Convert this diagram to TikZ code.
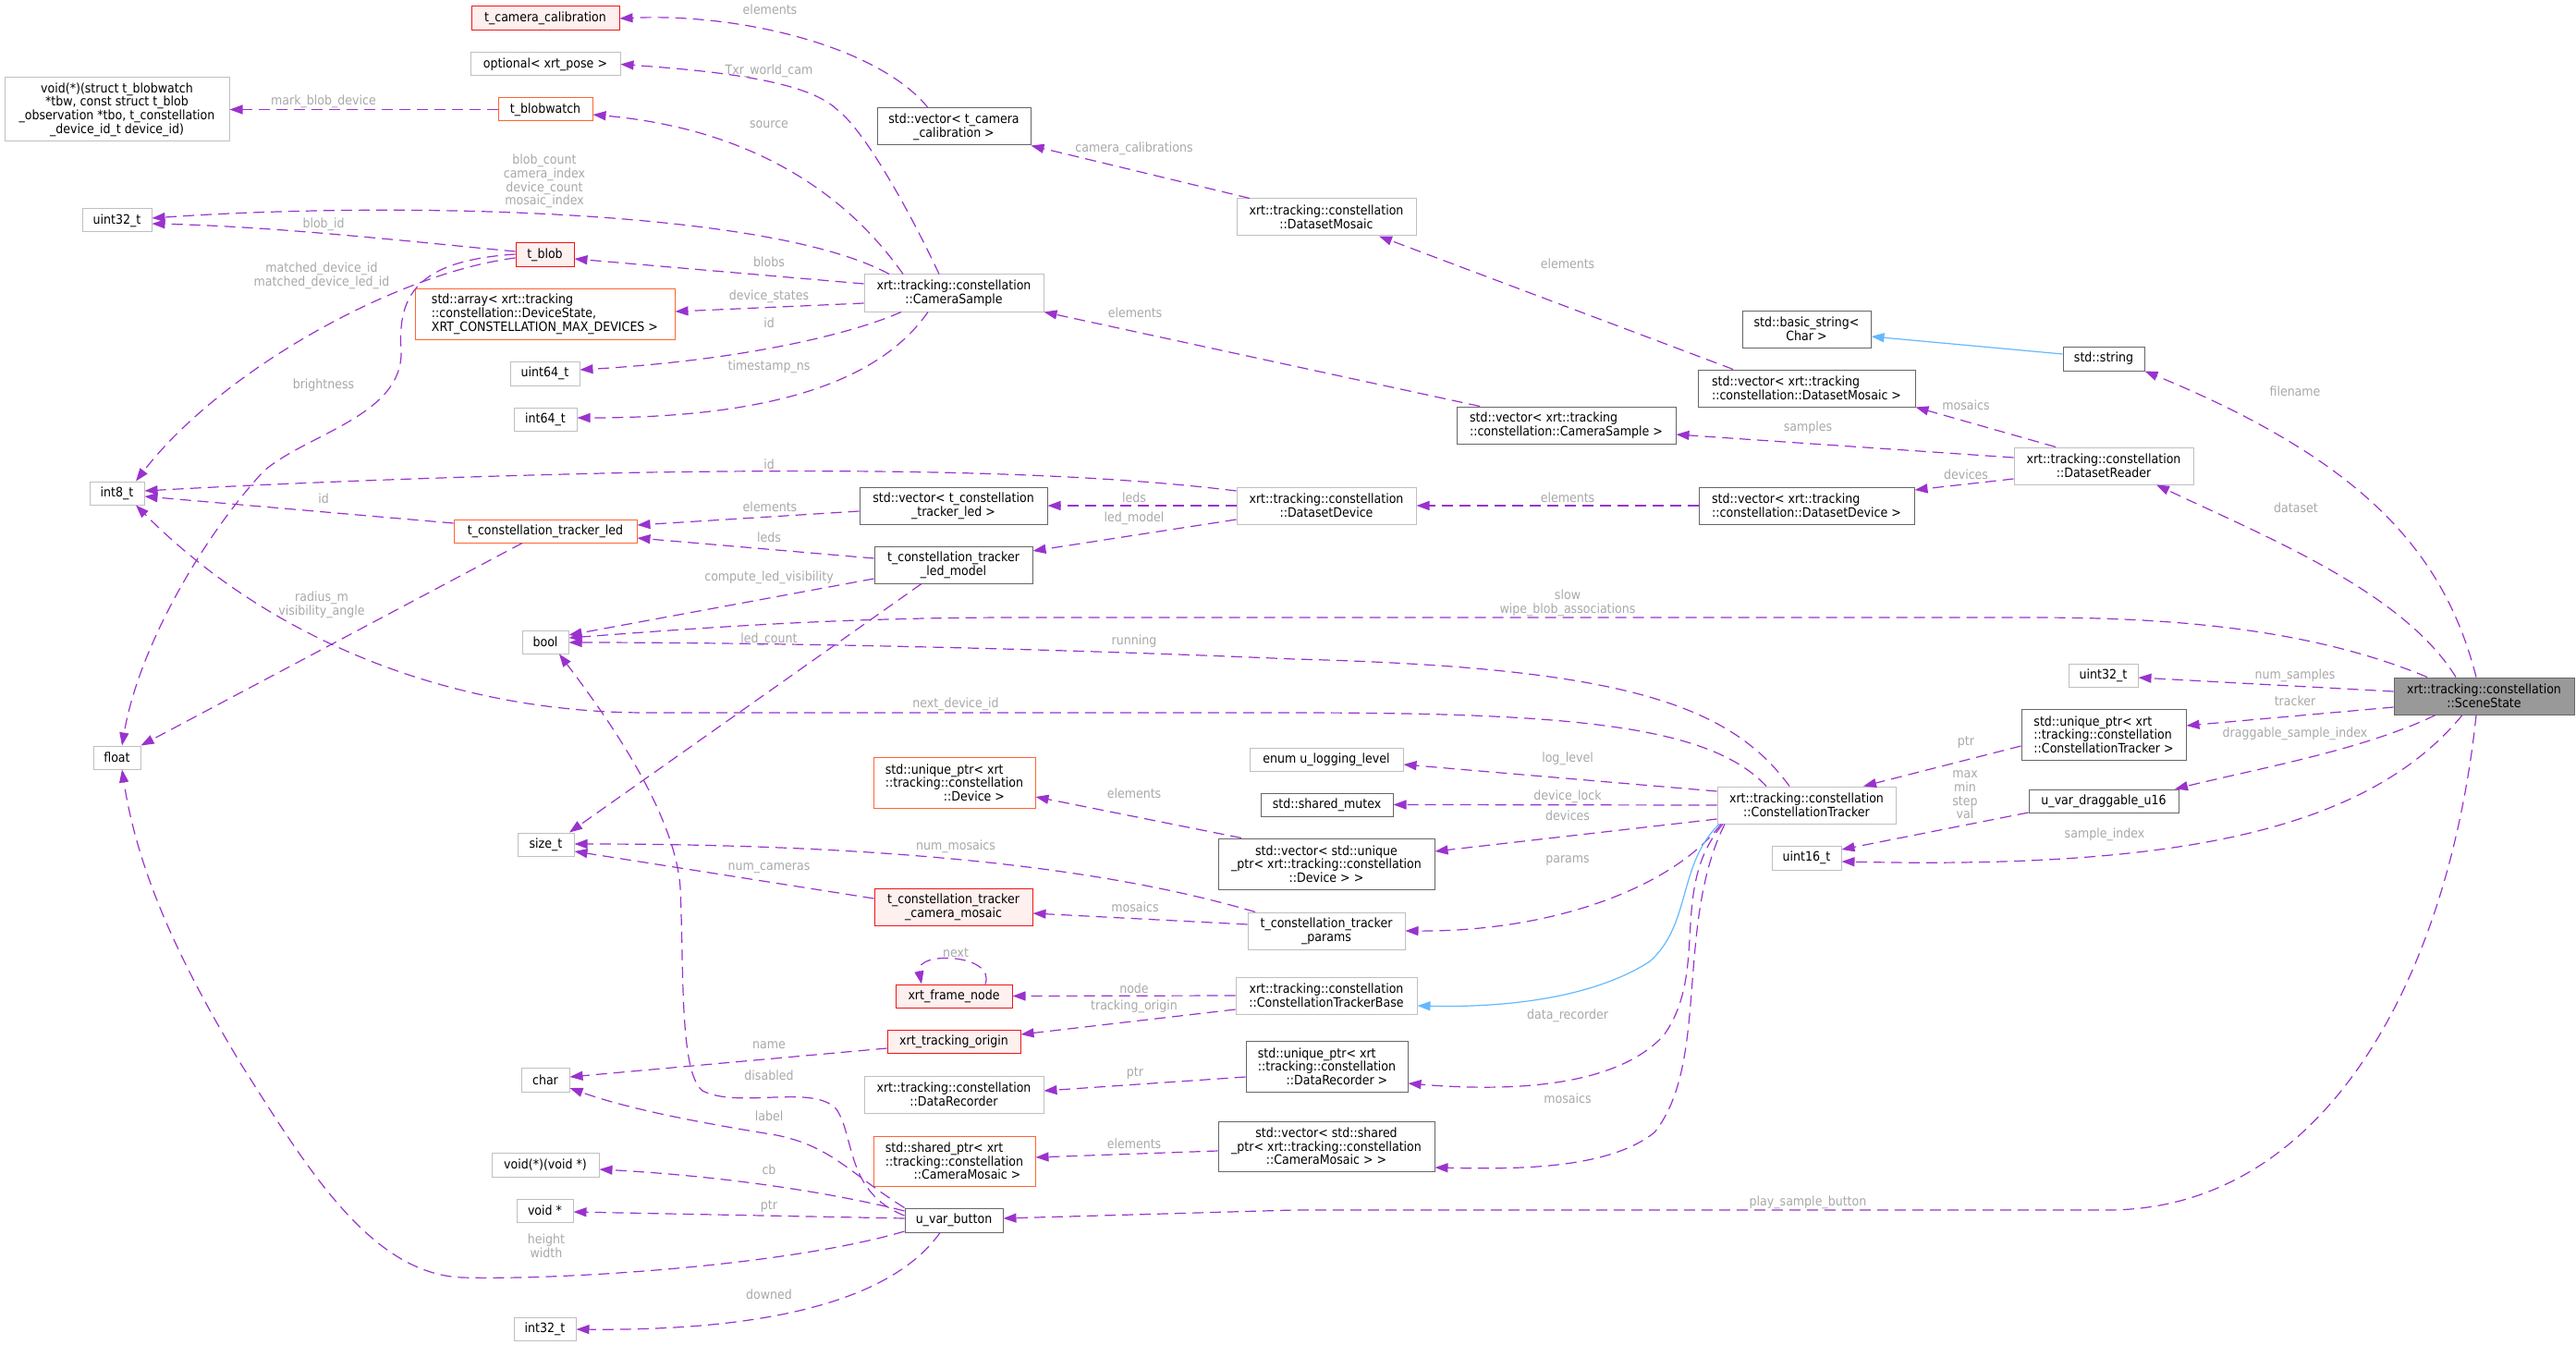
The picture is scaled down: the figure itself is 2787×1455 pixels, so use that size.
\documentclass[tikz,border=0pt]{standalone}
\usepackage{fontspec}
\setmainfont{DejaVu Sans}[FakeStretch=0.9]
\usetikzlibrary{arrows.meta,calc}
\definecolor{purp}{RGB}{154,50,205}
\definecolor{labg}{RGB}{168,168,168}
\definecolor{lgray}{RGB}{191,191,191}
\definecolor{dgray}{RGB}{102,102,102}
\definecolor{orng}{RGB}{255,100,50}
\definecolor{redc}{RGB}{240,20,20}
\definecolor{pinkc}{RGB}{255,240,240}
\definecolor{bluec}{RGB}{99,184,255}
\definecolor{scenefill}{RGB}{153,153,153}
\newcommand\dxfont{\fontsize{14}{14.7}\selectfont}
\tikzset{
  box/.style={draw=lgray, line width=1pt, fill=white, inner sep=1pt, align=center, font=\dxfont},
  dbox/.style={box, draw=dgray},
  obox/.style={box, draw=orng},
  rbox/.style={box, draw=redc, fill=pinkc},
  wh/.style 2 args={minimum width=#1pt, minimum height=#2pt},
  lab/.style={text=labg, font=\dxfont, align=center, inner sep=0pt},
  e/.style={draw=purp, line width=1.2pt, dash pattern=on 12pt off 7pt, -{Triangle[length=14pt,width=10pt]}},
  inh/.style={draw=bluec, line width=1.2pt, -{Triangle[length=14pt,width=10pt]}}
}
\begin{document}
\begin{tikzpicture}[x=1pt,y=-1pt]
\useasboundingbox (0,0) rectangle (2787,1455);
% nodes
\node[rbox, wh={160}{26}] (tcc) at (590,20) {t\_camera\_calibration};
\node[box, wh={162}{25}] (optpose) at (590,69.5) {optional< xrt\_pose >};
\node[box, wh={243}{69}] (voidfn) at (126.5,118.5) {void(*)(struct t\_blobwatch\\ *tbw, const struct t\_blob\\\_observation *tbo, t\_constellation\\\_device\_id\_t device\_id)};
\node[obox, wh={102}{25}] (blobwatch) at (590,118.5) {t\_blobwatch};
\node[box, wh={75}{25}] (u32L) at (126.5,238.5) {uint32\_t};
\node[rbox, wh={63}{26}] (tblob) at (589.5,276) {t\_blob};
\node[obox, wh={281}{54}, align=left] (devarr) at (589.5,340) {std::array< xrt::tracking\\::constellation::DeviceState,\\ XRT\_CONSTELLATION\_MAX\_DEVICES >};
\node[box, wh={75}{26}] (u64) at (589.5,404) {uint64\_t};
\node[box, wh={68}{25}] (i64) at (590,453.5) {int64\_t};
\node[dbox, wh={166}{40}] (veccal) at (1032,137) {std::vector< t\_camera\\\_calibration >};
\node[box, wh={194}{40}] (cs) at (1032,317) {xrt::tracking::constellation\\::CameraSample};
\node[box, wh={194}{40}] (dmosaic) at (1435,235) {xrt::tracking::constellation\\::DatasetMosaic};
\node[dbox, wh={139}{40}] (bstr) at (1954.5,356) {std::basic\_string<\\ Char >};
\node[dbox, wh={235}{40}, align=left] (vecdm) at (1954.5,420) {std::vector< xrt::tracking\\::constellation::DatasetMosaic >};
\node[dbox, wh={237}{40}, align=left] (veccs) at (1694.5,460) {std::vector< xrt::tracking\\::constellation::CameraSample >};
\node[dbox, wh={88}{26}] (str) at (2276,388) {std::string};
\node[box, wh={194}{40}] (reader) at (2276,504) {xrt::tracking::constellation\\::DatasetReader};
\node[box, wh={59}{25}] (i8) at (126.5,533.5) {int8\_t};
\node[obox, wh={198}{25}] (led) at (590,574.5) {t\_constellation\_tracker\_led};
\node[box, wh={50}{25}] (bool) at (590,694.5) {bool};
\node[box, wh={51}{25}] (float) at (126.5,819.5) {float};
\node[box, wh={61}{25}] (sizet) at (590.5,913.5) {size\_t};
\node[dbox, wh={203}{40}] (vecled) at (1031.5,547) {std::vector< t\_constellation\\\_tracker\_led >};
\node[dbox, wh={171}{40}] (ledmodel) at (1031.5,611) {t\_constellation\_tracker\\\_led\_model};
\node[box, wh={194}{40}] (ddev) at (1435,547) {xrt::tracking::constellation\\::DatasetDevice};
\node[obox, wh={175}{55}, align=left] (updev) at (1032.5,846.5) {std::unique\_ptr< xrt\\::tracking::constellation\\\hspace*{4.5em}::Device >};
\node[box, wh={166}{25}] (loglvl) at (1435,821.5) {enum u\_logging\_level};
\node[dbox, wh={143}{25}] (mutex) at (1435.5,870.5) {std::shared\_mutex};
\node[dbox, wh={234}{55}] (vecdev) at (1435,934.5) {std::vector< std::unique\\\_ptr< xrt::tracking::constellation\\::Device > >};
\node[dbox, wh={233}{40}, align=left] (vecdd) at (1954.5,547) {std::vector< xrt::tracking\\::constellation::DatasetDevice >};
\node[box, wh={193}{40}] (ct) at (1954.5,871) {xrt::tracking::constellation\\::ConstellationTracker};
\node[box, wh={75}{26}] (u16) at (1954.5,928) {uint16\_t};
\node[box, wh={75}{25}] (u32R) at (2275.5,730.5) {uint32\_t};
\node[dbox, wh={178}{55}, align=left] (upct) at (2276,794.5) {std::unique\_ptr< xrt\\::tracking::constellation\\::ConstellationTracker >};
\node[dbox, wh={162}{25}] (drag) at (2276,866.5) {u\_var\_draggable\_u16};
\node[box, draw=dgray, fill=scenefill, wh={195}{40}] (scene) at (2687.5,753) {xrt::tracking::constellation\\::SceneState};
\node[box, wh={52}{26}] (char) at (590,1168) {char};
\node[box, wh={116}{26}] (voidcb) at (590,1260) {void(*)(void *)};
\node[box, wh={61}{25}] (voidp) at (589.5,1309.5) {void *};
\node[box, wh={67}{25}] (i32) at (589.5,1437.5) {int32\_t};
\node[rbox, wh={171}{40}] (cmosaic) at (1031.5,981) {t\_constellation\_tracker\\\_camera\_mosaic};
\node[rbox, wh={126}{25}] (frame) at (1032,1077.5) {xrt\_frame\_node};
\node[rbox, wh={144}{25}] (torigin) at (1032,1126.5) {xrt\_tracking\_origin};
\node[box, wh={194}{40}] (drec) at (1032,1184) {xrt::tracking::constellation\\::DataRecorder};
\node[obox, wh={175}{54}, align=left] (spmosaic) at (1032.5,1256) {std::shared\_ptr< xrt\\::tracking::constellation\\\hspace*{2.2em}::CameraMosaic >};
\node[dbox, wh={106}{26}] (button) at (1032,1320) {u\_var\_button};
\node[box, wh={170}{40}] (params) at (1435,1007) {t\_constellation\_tracker\\\_params};
\node[box, wh={196}{40}] (ctbase) at (1435,1077) {xrt::tracking::constellation\\::ConstellationTrackerBase};
\node[dbox, wh={175}{55}, align=left] (updrec) at (1435.5,1153.5) {std::unique\_ptr< xrt\\::tracking::constellation\\\hspace*{2.2em}::DataRecorder >};
\node[dbox, wh={234}{54}] (vecspm) at (1435,1240) {std::vector< std::shared\\\_ptr< xrt::tracking::constellation\\::CameraMosaic > >};
% edges
\draw[e] (veccal.north -| 1004,0) .. controls (950,50) and (800,14) .. (tcc.east);
\draw[e] (cs.north -| 1016,0) .. controls (985,230) and (935,140) .. (905,118) .. controls (870,85) and (760,76) .. (optpose.east);
\draw[e] (cs.north -| 977,0) .. controls (920,215) and (820,140) .. (blobwatch.east |- 0,124);
\draw[e] (cs.north -| 962,0) .. controls (830,225) and (420,218) .. (u32L.east |- 0,236);
\draw[e] (cs.west |- 0,307) -- (tblob.east |- 0,280);
\draw[e] (cs.west |- 0,328) -- (devarr.east |- 0,337);
\draw[e] (cs.south -| 975,0) .. controls (920,362) and (800,390) .. (u64.east |- 0,400);
\draw[e] (cs.south -| 1004,0) .. controls (950,415) and (830,452) .. (i64.east |- 0,452);
\draw[e] (blobwatch.west) -- (voidfn.east);
\draw[e] (tblob.west |- 0,272) .. controls (450,262) and (300,245) .. (u32L.east |- 0,242);
\draw[e] (tblob.west |- 0,279) .. controls (430,295) and (240,400) .. (i8.north -| 147,0);
\draw[e] (tblob.west |- 0,275) .. controls (450,282) and (430,320) .. (434,380) .. controls (436,450) and (330,470) .. (285,510) .. controls (220,580) and (150,700) .. (float.north -| 132,0);
\draw[e] (led.west |- 0,566) -- (i8.east |- 0,537);
\draw[e] (led.south -| 565,0) -- (float.north east);
\draw[e] (vecled.west |- 0,553) -- (led.east |- 0,568);
\draw[e] (ledmodel.west |- 0,604) -- (led.east |- 0,582);
\draw[e] (ledmodel.west |- 0,626) -- (bool.east |- 0,687);
\draw[e] (ledmodel.south -| 997,0) -- (sizet.north -| 616,0);
\draw[e] (ddev.west |- 0,531) .. controls (1150,508) and (900,508) .. (700,511) .. controls (500,515) and (300,523) .. (i8.east |- 0,531);
\draw[e] (ddev.west) -- (vecled.east);
\draw[e] (ddev.west |- 0,562) -- (ledmodel.east |- 0,596);
\draw[e] (vecdd.west) -- (ddev.east);
\draw[e] (veccs.north -| 1601,0) -- (cs.south east);
\draw[e] (dmosaic.north -| 1352,0) -- (veccal.south east);
\draw[e] (vecdm.north -| 1875,0) -- (dmosaic.south -| 1492,0);
\draw[e] (reader.north -| 2224,0) -- (vecdm.south east);
\draw[e] (reader.west |- 0,495) -- (veccs.east |- 0,470);
\draw[e] (reader.west |- 0,518) -- (vecdd.east |- 0,530);
\draw[inh] (str.west |- 0,383) -- (bstr.east |- 0,364);
\draw[e] (scene.north -| 2679,0) .. controls (2645,600) and (2560,500) .. (str.south east);
\draw[e] (scene.north -| 2657,0) .. controls (2600,640) and (2450,580) .. (reader.south -| 2333,0);
\draw[e] (scene.north -| 2626,0) .. controls (2500,680) and (2350,668) .. (2200,668) -- (1100,668) .. controls (900,668) and (750,680) .. (bool.east |- 0,690);
\draw[e] (scene.west |- 0,748) -- (u32R.east |- 0,733);
\draw[e] (scene.west |- 0,765) -- (upct.east |- 0,785);
\draw[e] (scene.south -| 2635,0) .. controls (2560,810) and (2450,830) .. (drag.north -| 2353,0);
\draw[e] (scene.south -| 2664,0) .. controls (2560,900) and (2350,940) .. (u16.east |- 0,932);
\draw[e] (scene.south -| 2679,0) .. controls (2650,1050) and (2520,1309) .. (2280,1309) -- (1400,1309) -- (button.east |- 0,1318);
\draw[e] (upct.west |- 0,807) -- (ct.north -| 2016,0);
\draw[e] (drag.west |- 0,879) -- (u16.east |- 0,919);
\draw[e] (ct.north -| 1936,0) .. controls (1870,760) and (1750,722) .. (1400,713) .. controls (1100,700) and (800,695) .. (bool.east |- 0,695);
\draw[e] (ct.north -| 1911,0) .. controls (1850,785) and (1700,771) .. (1400,771) -- (700,771) .. controls (500,771) and (300,700) .. (i8.south -| 147,0);
\draw[e] (ct.west |- 0,856) -- (loglvl.east |- 0,827);
\draw[e] (ct.west) -- (mutex.east);
\draw[e] (ct.west |- 0,886) -- (vecdev.east |- 0,921);
\draw[e] (ct.south -| 1862,0) .. controls (1810,960) and (1680,1008) .. (params.east);
\draw[inh] (ct.south -| 1860,0) .. controls (1815,935) and (1830,1000) .. (1785,1040) .. controls (1720,1082) and (1620,1090) .. (ctbase.east |- 0,1088);
\draw[e] (ct.south -| 1864,0) .. controls (1805,960) and (1850,1050) .. (1800,1120) .. controls (1745,1180) and (1620,1180) .. (updrec.east |- 0,1172);
\draw[e] (ct.south -| 1866,0) .. controls (1812,1000) and (1850,1150) .. (1790,1225) .. controls (1740,1265) and (1640,1265) .. (vecspm.east |- 0,1263);
\draw[e] (params.north -| 1358,0) .. controls (1250,955) and (1050,913) .. (sizet.east |- 0,913);
\draw[e] (params.west |- 0,1000) -- (cmosaic.east |- 0,988);
\draw[e] (cmosaic.west |- 0,972) -- (sizet.east |- 0,921);
\draw[e] (vecdev.north -| 1343,0) -- (updev.east |- 0,862);
\draw[e] (frame.north -| 1066,0) .. controls (1078,1032) and (990,1028) .. (frame.north -| 997,0);
\draw[e] (ctbase.west) -- (frame.east);
\draw[e] (ctbase.west |- 0,1092) -- (torigin.east |- 0,1119);
\draw[e] (torigin.west |- 0,1134) -- (char.east |- 0,1165);
\draw[e] (updrec.west |- 0,1165) -- (drec.east |- 0,1180);
\draw[e] (vecspm.west |- 0,1245) -- (spmosaic.east |- 0,1252);
\draw[e] (button.west |- 0,1315) .. controls (915,1290) and (925,1230) .. (905,1200) .. controls (880,1172) and (800,1200) .. (760,1180) .. controls (735,1160) and (740,1050) .. (736,960) .. controls (730,880) and (660,780) .. (bool.south -| 605,0);
\draw[e] (button.north west) .. controls (920,1270) and (900,1240) .. (840,1228) .. controls (760,1215) and (680,1200) .. (char.east |- 0,1177);
\draw[e] (button.west |- 0,1310) .. controls (900,1290) and (780,1272) .. (voidcb.east |- 0,1265);
\draw[e] (button.west |- 0,1318) -- (voidp.east |- 0,1311);
\draw[e] (button.west |- 0,1332) .. controls (850,1370) and (600,1385) .. (500,1382) .. controls (400,1378) and (330,1260) .. (260,1150) .. controls (200,1050) and (150,950) .. (float.south -| 132,0);
\draw[e] (button.south -| 1017,0) .. controls (970,1400) and (850,1440) .. (i32.east |- 0,1438);
% labels
\node[lab] (l1) at (833,10) {elements};
\node[lab] (l2) at (832,77) {Txr\_world\_cam};
\node[lab] (l3) at (832,135) {source};
\node[lab] (l4) at (589,196) {blob\_count\\camera\_index\\device\_count\\mosaic\_index};
\node[lab] (l5) at (832,283) {blobs};
\node[lab] (l6) at (832,321) {device\_states};
\node[lab] (l7) at (832,349) {id};
\node[lab] (l8) at (832,397) {timestamp\_ns};
\node[lab] (l9) at (350,110) {mark\_blob\_device};
\node[lab] (l10) at (350,243) {blob\_id};
\node[lab] (l11) at (348,298) {matched\_device\_id\\matched\_device\_led\_id};
\node[lab] (l12) at (350,417) {brightness};
\node[lab] (l13) at (350,539) {id};
\node[lab] (l14) at (348,654) {radius\_m\\visibility\_angle};
\node[lab] (l15) at (833,548) {elements};
\node[lab] (l16) at (832,581) {leds};
\node[lab] (l17) at (832,625) {compute\_led\_visibility};
\node[lab] (l18) at (832,692) {led\_count};
\node[lab] (l19) at (832,502) {id};
\node[lab] (l20) at (1227,538) {leds};
\node[lab] (l21) at (1227,561) {led\_model};
\node[lab] (l22) at (1696,538) {elements};
\node[lab] (l23) at (1228,338) {elements};
\node[lab] (l24) at (1227,161) {camera\_calibrations};
\node[lab] (l25) at (1696,285) {elements};
\node[lab] (l26) at (2127,438) {mosaics};
\node[lab] (l27) at (1956,463) {samples};
\node[lab] (l28) at (2127,513) {devices};
\node[lab] (l30) at (2483,423) {filename};
\node[lab] (l31) at (2484,549) {dataset};
\node[lab] (l32) at (1696,652) {slow\\wipe\_blob\_associations};
\node[lab] (l33) at (2483,731) {num\_samples};
\node[lab] (l34) at (2483,758) {tracker};
\node[lab] (l35) at (2483,794) {draggable\_sample\_index};
\node[lab] (l36) at (2277,903) {sample\_index};
\node[lab] (l37) at (1956,1301) {play\_sample\_button};
\node[lab] (l38) at (2127,803) {ptr};
\node[lab] (l39) at (2126,860) {max\\min\\step\\val};
\node[lab] (l40) at (1227,694) {running};
\node[lab] (l41) at (1034,762) {next\_device\_id};
\node[lab] (l42) at (1696,821) {log\_level};
\node[lab] (l43) at (1696,862) {device\_lock};
\node[lab] (l44) at (1696,882) {devices};
\node[lab] (l45) at (1696,931) {params};
\node[lab] (l47) at (1696,1099) {data\_recorder};
\node[lab] (l48) at (1696,1188) {mosaics};
\node[lab] (l49) at (1034,916) {num\_mosaics};
\node[lab] (l50) at (1228,981) {mosaics};
\node[lab] (l51) at (832,939) {num\_cameras};
\node[lab] (l52) at (1227,858) {elements};
\node[lab] (l53) at (1034,1031) {next};
\node[lab] (l54) at (1227,1069) {node};
\node[lab] (l55) at (1227,1089) {tracking\_origin};
\node[lab] (l56) at (832,1131) {name};
\node[lab] (l57) at (1228,1161) {ptr};
\node[lab] (l58) at (1227,1237) {elements};
\node[lab] (l59) at (832,1163) {disabled};
\node[lab] (l60) at (832,1207) {label};
\node[lab] (l61) at (832,1265) {cb};
\node[lab] (l62) at (832,1305) {ptr};
\node[lab] (l63) at (591,1348) {height\\width};
\node[lab] (l64) at (832,1400) {downed};
\end{tikzpicture}
\end{document}
